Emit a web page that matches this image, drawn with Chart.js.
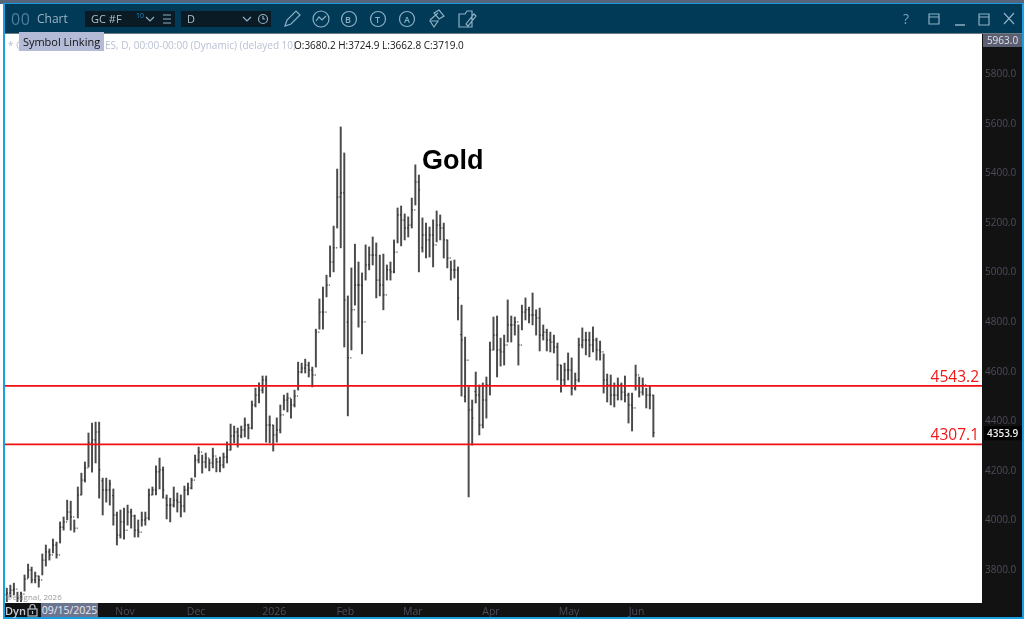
<!DOCTYPE html>
<html><head><meta charset="utf-8">
<script src="https://cdn.jsdelivr.net/npm/chart.js@4"></script>
<style>
html,body{margin:0;padding:0;width:1024px;height:620px;overflow:hidden;background:#fff;font-family:"Open Sans",sans-serif}
.a{position:absolute;white-space:nowrap}
canvas{position:absolute;left:0;top:0}
svg{position:absolute;left:0;top:0}
</style></head><body>
<div class="a" style="left:0;top:0;width:1024px;height:4px;background:#56657c"></div>
<div class="a" style="left:3px;top:3px;width:1021px;height:31px;background:#003a57;border-top:1px solid #149ad8;box-sizing:border-box;border-bottom:1px solid #6f7a80"></div>
<div class="a" style="left:982px;top:34px;width:40px;height:569px;background:#121212"></div>
<div class="a" style="left:3px;top:603px;width:1019px;height:14px;background:#121212"></div>
<div class="a" style="left:3px;top:3px;width:2px;height:615px;background:#1a9fe0"></div>
<div class="a" style="left:1022px;top:3px;width:2px;height:615px;background:#1a9fe0"></div>
<div class="a" style="left:3px;top:617px;width:1021px;height:2px;background:#1a9fe0"></div>
<canvas id="c" width="1024" height="620"></canvas>

<div class="a" style="left:11px;top:8px;font-size:16px;color:#4f7f9c;letter-spacing:.5px">00</div>
<div class="a" style="left:37px;top:10px;font-size:12px;color:#9cb6c6">Chart</div>
<div class="a" style="left:85px;top:11px;width:90px;height:16px;background:#0b1b26"></div>
<div class="a" style="left:91px;top:11px;font-size:11px;color:#aebfca">GC #F</div>
<div class="a" style="left:136px;top:11px;font-size:7px;color:#1a8fc8">10</div>
<div class="a" style="left:181px;top:11px;width:90px;height:16px;background:#0b1b26"></div>
<div class="a" style="left:187px;top:11px;font-size:11px;color:#aebfca">D</div>
<div class="a" style="left:903px;top:9px;font-size:14px;color:#7fa0b4">?</div>
<svg width="1024" height="34" fill="none" stroke="#8db0c4" stroke-width="1.2">
 <path d="M146 17l4 4 4-4M163 15h8M163 19h8M163 23h8M243 17l4 4 4-4"/>
 <circle cx="263" cy="19" r="4.5"/><path d="M263 16v3h2"/>
 <path d="M285 26l2-6 9-9 4 4-9 9z"/>
 <circle cx="321" cy="19" r="8"/><path d="M316 21l3-4 3 3 4-4"/>
 <circle cx="349" cy="19" r="7.5"/><circle cx="378" cy="19" r="7.5"/><circle cx="407" cy="19" r="7.5"/>
 <path d="M430 21l4 6 4-6zM434 13l5-3 5 6-5 3zM430 20l8-7"/>
 <path d="M459 14h6l2-3h5v16h-13zM466 24l8-10 2 2-8 10z"/>
 <path d="M929 14h10v10h-10zM929 17h10"/><path d="M955 25h10" stroke-width="1.5"/>
 <path d="M979 14h10v11h-10zM979 17h10"/><path d="M1004 13l10 11M1014 13l-10 11"/>
</svg>
<div class="a" style="left:345px;top:13px;font-size:9px;color:#8db0c4;font-weight:600">B</div>
<div class="a" style="left:375px;top:13px;font-size:9px;color:#8db0c4;font-weight:600">T</div>
<div class="a" style="left:404px;top:13px;font-size:9px;color:#8db0c4;font-weight:600">A</div>

<div class="a" style="left:8px;top:38px;font-size:10px;color:#b9c0d2">* G</div>
<div class="a" style="left:105px;top:38px;font-size:10px;color:#b9c0d2">ES, D, 00:00-00:00 (Dynamic) (delayed 10)</div>
<div class="a" style="left:294px;top:38px;font-size:10px;color:#151515">O:3680.2 H:3724.9 L:3662.8 C:3719.0</div>
<div class="a" style="left:19px;top:32px;width:85px;height:19px;background:#b3bbd6;font-size:11px;line-height:19px;color:#111;text-align:center">Symbol Linking</div>

<div class="a" style="left:422px;top:145px;font:bold 27px 'Liberation Sans',sans-serif;color:#000">Gold</div>
<div class="a" style="left:6px;top:591px;font-size:8px;color:#9a9a9a">©eSignal, 2026</div>

<div class="a" style="left:5px;top:603px;font-size:11px;font-weight:600;line-height:15px;color:#c8ccd8">Dyn</div>
<svg width="1024" height="620" fill="none" stroke="#b8bcc8" stroke-width="1.2" style="pointer-events:none">
 <rect x="28" y="609" width="9" height="7"/><path d="M30 609v-2a2.5 2.5 0 0 1 5 0v2M32.5 611v3"/>
</svg>
<div class="a" style="left:41px;top:603px;width:57px;height:14px;background:#6c7590;font-size:10.5px;line-height:15px;color:#e8e8f0;text-align:center">09/15/2025</div>
<div class="a" style="left:983px;top:34px;width:39px;height:13px;background:#5b5f71;font-size:10px;line-height:13px;color:#dfe2ea;text-align:center">5963.0</div>

<script>
const axisMin = 3671, axisMax = 5963;
const yTicks = [3800,4000,4200,4400,4600,4800,5000,5200,5400,5600,5800];
const tickLabels = ['Nov','Dec','2026','Feb','Mar','Apr','May','Jun'];
const tickSlots = [33,53,75,95,114,136,158,177];
const levels = [4543.2, 4307.1];
const lastPrice = 4353.9;
const slotCount = 275;
const highs = [3727,3739,3747,3711,3711,3780,3824,3812,3792,3776,3865,3901,3885,3925,3913,3994,4014,4082,4078,4002,4135,4191,4236,4353,4393,4397,4397,4171,4171,4163,4127,4034,4042,4050,4062,4046,4022,4002,4034,4034,4127,4135,4220,4252,4216,4103,4090,4135,4111,4103,4139,4151,4171,4264,4296,4264,4272,4248,4292,4252,4256,4272,4317,4389,4381,4373,4381,4414,4389,4482,4534,4555,4583,4583,4422,4385,4414,4466,4506,4514,4490,4526,4639,4635,4651,4639,4619,4772,4894,4942,4990,5108,5188,5418,5588,5483,4906,5019,5115,5043,4999,5112,5104,5144,5120,5071,5075,5031,5043,5132,5261,5269,5237,5225,5301,5435,5394,5221,5200,5184,5213,5249,5233,5200,5132,5047,5051,5023,4869,4740,4539,4486,4599,4547,4555,4579,4720,4821,4825,4736,4748,4890,4825,4821,4789,4869,4898,4861,4918,4850,4857,4789,4772,4760,4748,4716,4627,4635,4676,4656,4595,4736,4777,4760,4760,4781,4736,4724,4672,4591,4587,4555,4575,4555,4583,4514,4514,4627,4579,4575,4534,4542,4506];
const lows = [3671,3691,3699,3651,3647,3715,3768,3748,3748,3731,3780,3816,3840,3869,3848,3909,3961,4002,3961,3953,4010,4103,4155,4216,4195,4232,4090,4022,4074,4062,3981,3901,3929,3925,3981,3969,3933,3933,3977,3981,4002,4103,4103,4127,4090,4006,3994,4054,4034,4014,4034,4103,4127,4175,4232,4191,4212,4200,4212,4196,4196,4212,4232,4284,4313,4296,4333,4337,4329,4369,4458,4474,4514,4316,4313,4280,4316,4353,4446,4438,4413,4458,4526,4595,4595,4579,4539,4619,4772,4772,4902,4983,5003,5180,5100,4700,4422,4688,4869,4780,4672,4970,5011,5031,4898,4906,4850,4970,4970,4999,5120,5108,5132,5144,5180,5273,5003,5083,5059,5063,5023,5124,5132,5059,5019,4970,4978,4809,4502,4478,4095,4304,4474,4345,4373,4413,4506,4688,4579,4623,4627,4720,4720,4748,4627,4769,4809,4797,4789,4748,4684,4728,4684,4680,4676,4567,4518,4547,4567,4506,4526,4559,4696,4668,4660,4680,4647,4647,4514,4478,4466,4458,4486,4486,4478,4393,4361,4526,4498,4506,4454,4450,4337];
const closes = [3707,3719,3723,3687,3703,3764,3800,3760,3776,3760,3840,3873,3861,3901,3861,3973,3994,4034,4014,3969,4103,4163,4212,4313,4325,4357,4204,4123,4123,4147,4022,3941,3994,3961,4034,4018,3961,3953,4002,4010,4103,4123,4196,4204,4123,4062,4062,4082,4074,4058,4123,4131,4163,4244,4276,4236,4252,4232,4260,4236,4224,4256,4284,4341,4357,4341,4365,4385,4373,4466,4506,4526,4567,4385,4385,4345,4365,4426,4486,4494,4466,4502,4599,4615,4627,4607,4587,4760,4841,4841,4950,5043,5100,5305,5322,4890,4656,4850,4950,4950,4801,5031,5071,5071,4970,4950,4910,5011,5003,5083,5233,5212,5180,5192,5253,5366,5334,5152,5132,5152,5112,5192,5180,5132,5059,5011,5011,4898,4728,4647,4446,4413,4506,4385,4486,4547,4688,4748,4688,4680,4708,4789,4789,4801,4708,4841,4850,4829,4829,4817,4748,4760,4728,4720,4700,4627,4567,4607,4607,4534,4567,4708,4728,4728,4708,4728,4688,4680,4567,4547,4506,4506,4547,4518,4506,4466,4454,4587,4518,4547,4506,4506,4354];
const opens = [3700,3707,3719,3723,3687,3703,3764,3800,3760,3776,3760,3840,3873,3861,3901,3861,3973,3994,4034,4014,3969,4103,4163,4212,4313,4325,4357,4160,4123,4123,4100,4022,3941,3994,3961,4034,4018,3961,3953,4002,4010,4103,4123,4196,4204,4090,4062,4062,4082,4074,4058,4123,4131,4163,4244,4276,4236,4252,4232,4260,4236,4224,4256,4284,4341,4357,4341,4365,4385,4373,4466,4506,4526,4567,4385,4385,4345,4365,4426,4486,4494,4466,4502,4599,4615,4627,4607,4587,4760,4841,4841,4950,5043,5100,5305,5322,4800,4656,4850,4950,4950,4801,5031,5071,5071,4970,4950,4910,5011,5003,5083,5233,5212,5180,5192,5253,5366,5100,5152,5132,5152,5112,5192,5180,5132,5059,5011,5011,4750,4500,4647,4446,4520,4506,4385,4486,4547,4688,4748,4688,4680,4708,4789,4789,4801,4708,4841,4850,4829,4829,4817,4748,4760,4728,4720,4700,4627,4567,4607,4607,4534,4567,4708,4728,4728,4708,4728,4688,4680,4567,4547,4506,4506,4547,4518,4506,4466,4454,4587,4518,4547,4506,4506];

const categories = [];
for (let i = 0; i < slotCount; i++) categories.push(tickLabels[tickSlots.indexOf(i)] || '');

const overlay = {
  id: 'overlay',
  afterDatasetsDraw(ch) {
    const c = ch.ctx, a = ch.chartArea, y = ch.scales.y;
    c.save();
    levels.forEach(v => {
      const p = y.getPixelForValue(v);
      c.strokeStyle = '#f01010'; c.lineWidth = 1.8;
      c.beginPath(); c.moveTo(a.left, p); c.lineTo(a.right, p); c.stroke();
      c.fillStyle = '#f01818'; c.font = '15.5px "Open Sans"';
      c.textAlign = 'right'; c.textBaseline = 'alphabetic';
      c.fillText(v.toFixed(1), a.right - 3, p - 4);
    });
    c.restore();
  },
  afterDraw(ch) {
    const c = ch.ctx, y = ch.scales.y, p = y.getPixelForValue(lastPrice);
    c.save();
    c.fillStyle = '#000'; c.fillRect(984, p - 6.5, 38, 14);
    c.fillStyle = '#f0f0f0'; c.font = '600 10px "Open Sans"';
    c.textAlign = 'left'; c.textBaseline = 'middle';
    c.fillText(lastPrice.toFixed(1), 987, p + 1);
    c.restore();
  }
};

new Chart(document.getElementById('c'), {
  type: 'bar',
  data: {
    labels: categories,
    datasets: [
      { type:'bar', label:'Gold range', data: highs.map((h,i)=>[lows[i],h]), backgroundColor:'#4a4a4a', borderWidth:0, barThickness:1.3, order:3 },
      { type:'line', label:'Close', data: closes, showLine:false, pointStyle:'dash', pointRadius:1.2, pointBorderWidth:1, pointBorderColor:'#222', pointHoverRadius:0, order:2 },
      { type:'line', label:'Open', data: opens, showLine:false, pointStyle:'dash', pointRotation:180, pointRadius:1.2, pointBorderWidth:1, pointBorderColor:'#222', pointHoverRadius:0, order:1 }
    ]
  },
  options: {
    responsive:false, animation:false,
    layout:{ padding:{ left:5, top:34, right:2, bottom:3 } },
    plugins:{ legend:{display:false}, tooltip:{enabled:false} },
    scales:{
      x:{ grid:{display:false,drawTicks:false}, border:{display:false},
          ticks:{ autoSkip:false, maxRotation:0, minRotation:0, padding:4, labelOffset:1, color:'#4d4d5c', font:{family:'Open Sans',size:10.5} },
          afterFit(s){ s.height = 15; } },
      y:{ position:'right', min:axisMin, max:axisMax, grid:{display:false,drawTicks:false}, border:{display:false},
          afterBuildTicks(s){ s.ticks = yTicks.map(v=>({value:v})); },
          ticks:{ padding:3, color:'#4d4d5c', font:{family:'Open Sans',size:10}, callback:v=>Number(v).toFixed(1) },
          afterFit(s){ s.width = 40; } }
    }
  },
  plugins:[{ id:'white', beforeDraw(ch){ const a=ch.chartArea,c=ch.ctx; c.save(); c.fillStyle='#fff'; c.fillRect(a.left,a.top,a.right-a.left,a.bottom-a.top); c.restore(); } }, overlay]
});
</script>
</body></html>
